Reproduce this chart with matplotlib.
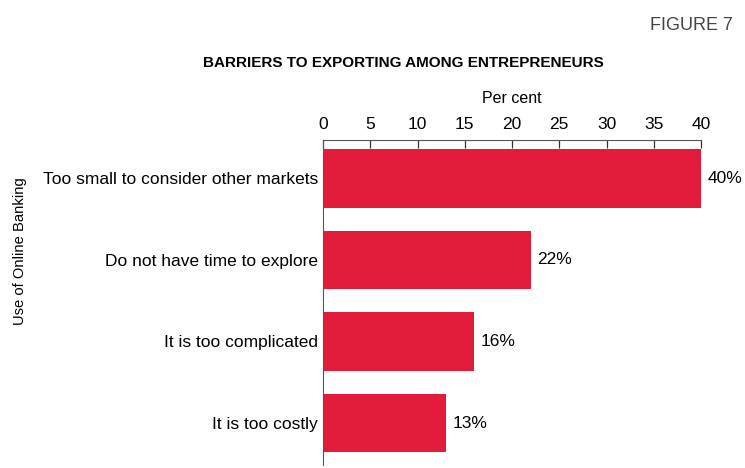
import matplotlib
matplotlib.use("Agg")
import matplotlib.pyplot as plt

plt.rcParams['font.family'] = ['Liberation Sans', 'DejaVu Sans']

categories = [
    "Too small to consider other markets",
    "Do not have time to explore",
    "It is too complicated",
    "It is too costly",
]
values = [40, 22, 16, 13]
xticks = [0, 5, 10, 15, 20, 25, 30, 35, 40]

bar_color = "#E31B3A"

fig = plt.figure(figsize=(7.45, 4.68), dpi=100)
ax = fig.add_axes([0.4336, 0.0064, 0.5074, 0.6945])

pos = list(range(len(categories)))
ax.barh(pos, values, height=0.72, color=bar_color, zorder=2)
ax.set_ylim(3.515, -0.472)
ax.set_xlim(0, 40)

ax.set_yticks(pos)
ax.set_yticklabels(categories, fontsize=12.5)
ax.tick_params(axis='y', length=0, pad=3.6)

ax.xaxis.tick_top()
ax.set_xticks(xticks)
ax.set_xticklabels([str(t) for t in xticks], fontsize=12.5)
ax.tick_params(axis='x', direction='in', length=6, width=0.9, color="#333333", pad=6)
ax.xaxis.set_label_position('top')
ax.set_xlabel("Per cent", fontsize=11.5, labelpad=10)

for s in ['right', 'bottom']:
    ax.spines[s].set_visible(False)
for s in ['top', 'left']:
    ax.spines[s].set_color("#555555")
    ax.spines[s].set_linewidth(0.8)

for p, v in zip(pos, values):
    ax.text(v + 0.7, p, f"{v}%", va='center', ha='left', fontsize=12.5)

ax.set_ylabel("Use of Online Banking", fontsize=10.6)
ax.yaxis.set_label_coords(-0.783, 0.658)

fig.text(0.542, 0.865, "BARRIERS TO EXPORTING AMONG ENTREPRENEURS",
         ha='center', va='center', fontsize=11, fontweight='bold')
fig.text(0.984, 0.946, "FIGURE 7", ha='right', va='center',
         fontsize=13, color="#444444")

fig.savefig("out.png", dpi=100)
